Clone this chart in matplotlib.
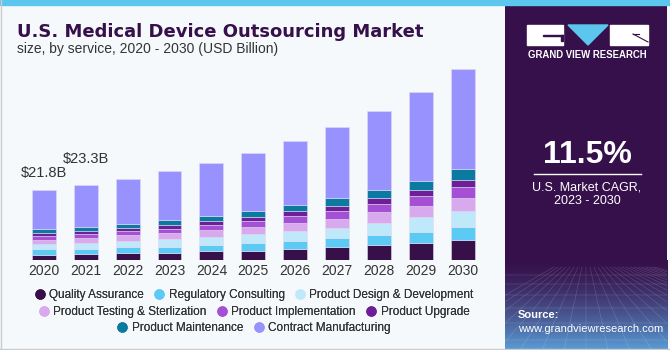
import numpy as np
import matplotlib.pyplot as plt
from matplotlib.lines import Line2D
from matplotlib.patches import Rectangle, Polygon

plt.rcParams['font.family'] = ['Liberation Sans', 'DejaVu Sans']

years = ['2020', '2021', '2022', '2023', '2024', '2025', '2026', '2027', '2028', '2029', '2030']
services = ['Quality Assurance', 'Regulatory Consulting', 'Product Design & Development',
            'Product Testing & Sterlization', 'Product Implementation', 'Product Upgrade',
            'Product Maintenance', 'Contract Manufacturing']
quality = [1.65, 1.77, 2.08, 2.27, 2.71, 2.95, 3.42, 3.95, 4.76, 5.29, 6.22]
regulatory = [1.77, 1.65, 1.87, 1.87, 1.96, 2.43, 2.58, 2.80, 3.02, 3.42, 4.04]
design = [1.46, 1.87, 1.96, 2.27, 2.39, 2.58, 3.02, 3.33, 3.83, 4.57, 4.98]
testing = [1.34, 1.65, 1.77, 1.96, 2.18, 2.39, 2.58, 2.80, 3.20, 3.42, 3.95]
implementation = [1.24, 1.15, 1.34, 1.34, 1.65, 1.77, 2.08, 2.49, 2.71, 3.20, 3.42]
upgrade = [0.93, 0.93, 1.03, 1.15, 1.15, 1.34, 1.46, 1.56, 1.87, 1.96, 2.39]
maintenance = [1.15, 1.34, 1.24, 1.56, 1.77, 1.80, 1.83, 2.39, 2.39, 2.80, 3.33]
contract = [12.26, 12.94, 13.90, 15.24, 16.36, 17.91, 20.09, 22.05, 24.66, 27.68, 30.98]
labels = {0: '$21.8B', 1: '$23.3B'}
label_gap = {0: 10, 1: 19}  # pixels above bar top

colors = ['#37104a', '#5bcbf5', '#bfe9fa', '#d8a9ec', '#a54fd5', '#6e1f98', '#0b7aa0', '#9892ff']
series = [quality, regulatory, design, testing, implementation, upgrade, maintenance, contract]

W, H = 670, 350
fig = plt.figure(figsize=(6.7, 3.5), dpi=100, facecolor='#f5f9fc')

# top stripe + borders
fig.patches.append(Rectangle((0, 1 - 5 / H), 1, 5 / H, transform=fig.transFigure,
                             color='#5cc6ee', zorder=0))
fig.add_artist(Line2D([0.5 / W, 0.5 / W], [0, 1], color='#cccccc', lw=1))
fig.add_artist(Line2D([0, 1], [1.5 / H, 1.5 / H], color='#cccccc', lw=1))

# bar chart
ax = fig.add_axes([10.2 / W, 1 - 260 / H, 486.3 / W, 199.4 / H])
ax.set_facecolor('none')
x = np.arange(len(years))
bottom = np.zeros(len(years))
for vals, c, name in zip(series, colors, services):
    ax.bar(x, vals, 0.57, bottom=bottom, color=c, label=name,
           edgecolor='#e0dcf0', linewidth=0.4)
    bottom += np.array(vals)
for i, t in labels.items():
    ax.annotate(t, (x[i], bottom[i]), xytext=(0, label_gap[i] * 0.72),
                textcoords='offset points', ha='center', va='bottom',
                fontsize=10.5, color='#333333')
ax.set_xlim(-0.8, 10.8)
ax.set_ylim(0, 62)
ax.set_xticks(x)
ax.set_xticklabels(years, fontsize=10, color='#333333')
ax.tick_params(axis='x', length=0, pad=3)
ax.set_yticks([])
for s in ax.spines.values():
    s.set_visible(False)

# title
fig.text(17 / W, 1 - 37 / H, 'U.S. Medical Device Outsourcing Market', fontsize=13,
         fontweight='bold', color='#36104a', va='baseline', family='DejaVu Sans')
fig.text(17 / W, 1 - 53 / H, 'size, by service, 2020 - 2030 (USD Billion)', fontsize=10,
         color='#333333', va='baseline')

# legend rows
rows = [[0, 1, 2], [3, 4, 5], [6, 7]]
row_y = [295, 311.7, 327.7]
for r, yy in zip(rows, row_y):
    handles = [Line2D([], [], marker='o', ls='none', color=colors[i], markersize=6.5) for i in r]
    leg = fig.legend(handles, [services[i] for i in r], ncol=len(r), loc='center',
                     bbox_to_anchor=(253 / W, 1 - yy / H), frameon=False, fontsize=8.5,
                     handletextpad=0.2, columnspacing=0.7, handlelength=1.2,
                     borderpad=0, labelcolor='#333333')
    fig.add_artist(leg)

# right panel
px = fig.add_axes([505 / W, 0, 162 / W, 345 / H])
px.set_xlim(0, 162)
px.set_ylim(345, 0)
px.axis('off')
px.add_patch(Rectangle((0, 0), 162, 345, color='#36104a', zorder=0))
grad = np.linspace(0, 1, 100)[:, None]
top_c = np.array([0x36, 0x10, 0x4a]) / 255
bot_c = np.array([0x5a, 0x9c, 0xd6]) / 255
img = top_c + (bot_c - top_c) * grad[..., None] ** 1.4
img = np.repeat(img, 2, axis=1)
px.imshow(img, extent=(0, 162, 345, 255), aspect='auto', zorder=1)
for k in range(-8, 18):
    px.plot([81 + k * 4, 81 + k * 22], [262, 345], color='white', lw=0.3, alpha=0.25, zorder=2)
for yy in [270, 279, 290, 303, 318, 335]:
    px.plot([0, 162], [yy, yy], color='white', lw=0.3, alpha=0.25, zorder=2)

# logo
px.add_patch(Rectangle((22, 20), 36, 20, color='white', zorder=3))
px.add_patch(Rectangle((38, 29.5), 20, 1.5, color='#36104a', zorder=4))
px.add_patch(Rectangle((56, 29.5), 2, 6, color='#36104a', zorder=4))
px.add_patch(Polygon([[63, 20], [103, 20], [83, 40]], color='#5cc6ee', zorder=3))
px.add_patch(Rectangle((105, 20), 38, 20, color='white', zorder=3))
px.plot([128, 143], [29, 37], color='#36104a', lw=0.8, zorder=4)
px.plot([128, 134], [29, 29], color='#36104a', lw=0.8, zorder=4)
px.text(82.5, 50, 'GRAND VIEW RESEARCH', color='white', fontsize=6.9, fontweight='bold',
        ha='center', va='center', zorder=4)

px.text(82, 150, '11.5%', color='white', fontsize=23, fontweight='bold', ha='center',
        va='center', zorder=4)
px.plot([29, 136], [168.5, 168.5], color='white', lw=1, zorder=4)
px.text(82, 182, 'U.S. Market CAGR,', color='white', fontsize=9, ha='center', va='center', zorder=4)
px.text(82, 196.5, '2023 - 2030', color='white', fontsize=9, ha='center', va='center', zorder=4)
px.text(13, 310, 'Source:', color='white', fontsize=8, fontweight='bold', va='center', zorder=4)
px.text(13, 324, 'www.grandviewresearch.com', color='white', fontsize=8, va='center', zorder=4)

fig.savefig('out.png', dpi=100, facecolor=fig.get_facecolor())
